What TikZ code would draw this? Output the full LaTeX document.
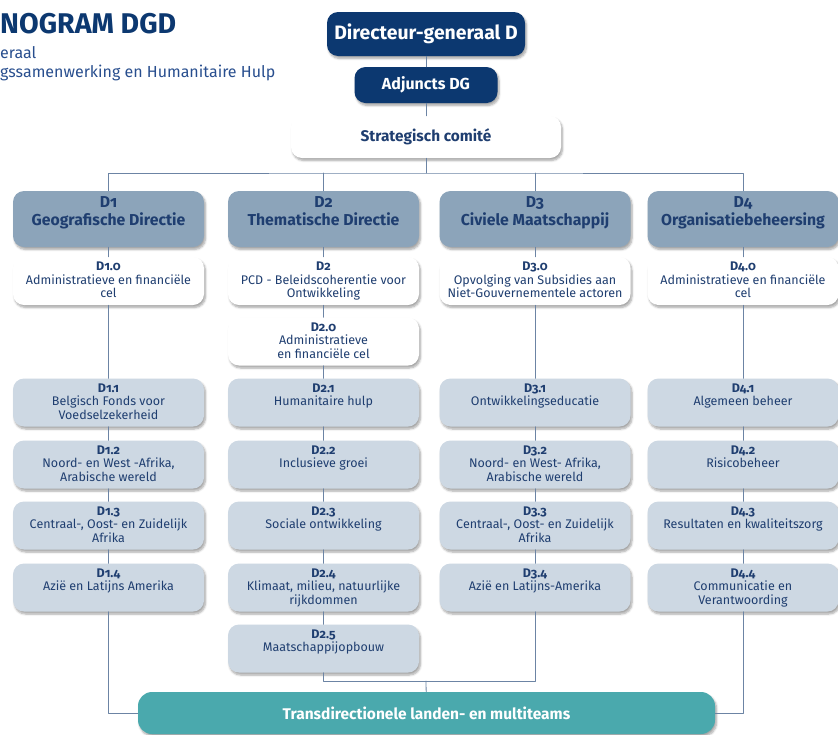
\documentclass[tikz,border=0pt]{standalone}
\usepackage{fontspec}
\setmainfont{Fira Sans}
\newfontfamily\osf[Numbers=OldStyle]{Fira Sans}
\usetikzlibrary{shadows.blur}

\definecolor{dgnavy}{RGB}{12,56,112}
\definecolor{dgtext}{RGB}{31,62,112}
\definecolor{titelblue}{RGB}{40,78,142}
\definecolor{dirgrey}{RGB}{140,164,186}
\definecolor{afdgrey}{RGB}{205,216,227}
\definecolor{teamteal}{RGB}{74,169,173}
\definecolor{linkblue}{RGB}{108,132,164}

% label on top, text below, top aligned in a box of fixed height
\newcommand{\boxtext}[3][38pt]{\parbox[c][#1][t]{185pt}{\centering{\osf\bfseries #2}\\#3}}

\tikzset{
	schaduw/.style={blur shadow={shadow xshift=1.5pt,shadow yshift=-2.5pt,shadow opacity=35,shadow blur steps=6}},
	box/.style={rectangle,rounded corners=11pt,align=center,text=dgtext,schaduw},
	topbox/.style={box,fill=dgnavy,text=white},
	dirbox/.style={box,fill=dirgrey,inner xsep=3pt,inner ysep=6pt,font=\bfseries\fontsize{15.8}{18}\selectfont},
	celbox/.style={box,fill=white,inner xsep=3pt,inner ysep=5pt,font=\fontsize{12.5}{13.5}\selectfont},
	afdbox/.style={celbox,fill=afdgrey},
	link/.style={draw=linkblue,line width=0.8pt}
}

\begin{document}
\begin{tikzpicture}[line cap=round,line join=round,x=1pt,y=-1pt]
	\useasboundingbox (0,0) rectangle (838,734);

	% kop
	\node[anchor=base west,inner xsep=0pt,text=dgnavy,font=\bfseries\fontsize{28.5}{30}\selectfont] (titel) at (0,33) {NOGRAM DGD};
	\node[anchor=base west,inner xsep=0pt,text=titelblue,font=\fontsize{16}{18}\selectfont] (sub1) at (0,58) {eraal};
	\node[anchor=base west,inner xsep=0pt,text=titelblue,font=\fontsize{16}{18}\selectfont] (sub2) at (0,77) {gssamenwerking en Humanitaire Hulp};

	% leiding
	\node[topbox,minimum width=198pt,minimum height=44pt,font=\bfseries\fontsize{19.4}{21}\selectfont] (dg) at (426,34) {Directeur-generaal D};
	\node[topbox,minimum width=143pt,minimum height=36pt,font=\bfseries\fontsize{16}{18}\selectfont] (adj) at (426,85) {Adjuncts DG};
	\node[box,fill=white,minimum width=270pt,minimum height=42pt,font=\bfseries\fontsize{15.4}{17}\selectfont] (sc) at (426,137) {Strategisch comité};

	% directies
	\foreach \n/\x/\naam in {1/108.5/Geografische Directie,2/323.5/Thematische Directie,3/535/Civiele Maatschappij,4/743/Organisatiebeheersing}
	\node[dirbox] (d\n) at (\x,219) {\boxtext[44pt]{D\n}{\naam}};

	\node[celbox] (d10) at (108.5,281) {\boxtext{D1.0}{Administratieve en financiële\\cel}};
	\node[celbox] (d2p) at (323.5,281) {\boxtext{D2}{PCD - Beleidscoherentie voor\\Ontwikkeling}};
	\node[celbox] (d30) at (535,281) {\boxtext{D3.0}{Opvolging van Subsidies aan\\Niet-Gouvernementele actoren}};
	\node[celbox] (d40) at (743,281) {\boxtext{D4.0}{Administratieve en financiële\\cel}};
	\node[celbox] (d20) at (323.5,341.5) {\boxtext{D2.0}{Administratieve\\en financiële cel}};

	% afdelingen D1
	\node[afdbox] (d11) at (108.5,402.5) {\boxtext{D1.1}{Belgisch Fonds voor\\Voedselzekerheid}};
	\node[afdbox] (d12) at (108.5,464.5) {\boxtext{D1.2}{Noord- en West -Afrika,\\Arabische wereld}};
	\node[afdbox] (d13) at (108.5,525.5) {\boxtext{D1.3}{Centraal-, Oost- en Zuidelijk\\Afrika}};
	\node[afdbox] (d14) at (108.5,587.5) {\boxtext{D1.4}{Azië en Latijns Amerika}};
	% afdelingen D2
	\node[afdbox] (d21) at (323.5,402.5) {\boxtext{D2.1}{Humanitaire hulp}};
	\node[afdbox] (d22) at (323.5,464.5) {\boxtext{D2.2}{Inclusieve groei}};
	\node[afdbox] (d23) at (323.5,525.5) {\boxtext{D2.3}{Sociale ontwikkeling}};
	\node[afdbox] (d24) at (323.5,587.5) {\boxtext{D2.4}{Klimaat, milieu, natuurlijke\\rijkdommen}};
	\node[afdbox] (d25) at (323.5,648.5) {\boxtext{D2.5}{Maatschappijopbouw}};
	% afdelingen D3
	\node[afdbox] (d31) at (535,402.5) {\boxtext{D3.1}{Ontwikkelingseducatie}};
	\node[afdbox] (d32) at (535,464.5) {\boxtext{D3.2}{Noord- en West- Afrika,\\Arabische wereld}};
	\node[afdbox] (d33) at (535,525.5) {\boxtext{D3.3}{Centraal-, Oost- en Zuidelijk\\Afrika}};
	\node[afdbox] (d34) at (535,587.5) {\boxtext{D3.4}{Azië en Latijns-Amerika}};
	% afdelingen D4
	\node[afdbox] (d41) at (743,402.5) {\boxtext{D4.1}{Algemeen beheer}};
	\node[afdbox] (d42) at (743,464.5) {\boxtext{D4.2}{Risicobeheer}};
	\node[afdbox] (d43) at (743,525.5) {\boxtext{D4.3}{Resultaten en kwaliteitszorg}};
	\node[afdbox] (d44) at (743,587.5) {\boxtext{D4.4}{Communicatie en\\Verantwoording}};

	\node[box,fill=teamteal,text=white,minimum width=577pt,minimum height=42pt,rounded corners=14pt,font=\bfseries\fontsize{15.5}{17}\selectfont] (tm) at (426.5,713) {Transdirectionele landen- en multiteams};

	% verbindingen
	\coordinate (balk) at (426,173);
	\coordinate (knoop) at (426,681);
	\draw[link] (dg) -- (adj) -- (sc) -- (balk);
	\draw[link] (d1) |- (balk) -| (d4);
	\draw[link] (d2) -- (d2 |- balk);
	\draw[link] (d3) -- (d3 |- balk);
	\draw[link] (d1) -- (d10) -- (d11) -- (d12) -- (d13) -- (d14);
	\draw[link] (d2) -- (d2p) -- (d20) -- (d21) -- (d22) -- (d23) -- (d24) -- (d25);
	\draw[link] (d3) -- (d30) -- (d31) -- (d32) -- (d33) -- (d34);
	\draw[link] (d4) -- (d40) -- (d41) -- (d42) -- (d43) -- (d44);
	\draw[link] (d25) |- (knoop) -| (d34);
	\draw[link] (knoop) -- (tm);
	\draw[link] (d14) |- (tm);
	\draw[link] (d44) |- (tm);
\end{tikzpicture}
\end{document}
